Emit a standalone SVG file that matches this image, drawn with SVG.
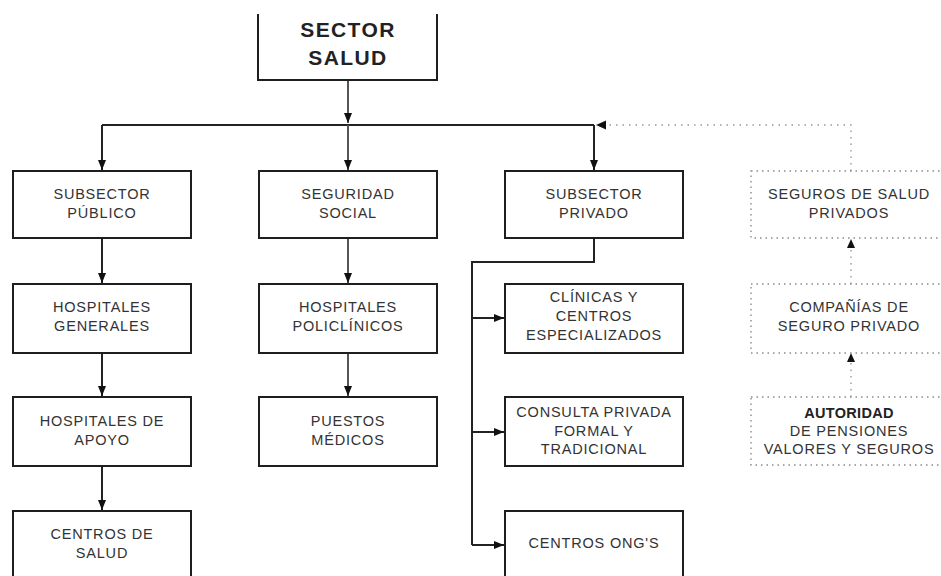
<svg xmlns="http://www.w3.org/2000/svg" width="941" height="576" viewBox="0 0 941 576">
<defs>
<style>
.bx{fill:#fff;stroke:#1e1e1e;stroke-width:2}
.dbx{fill:#fff;stroke:#8a8a8a;stroke-width:1.4;stroke-dasharray:1.5 4}
.t{font-family:"Liberation Sans",Arial,sans-serif;font-size:14.5px;fill:#333;text-anchor:middle;letter-spacing:0.8px}
.tb{font-family:"Liberation Sans",Arial,sans-serif;font-size:21px;font-weight:bold;fill:#222;text-anchor:middle;letter-spacing:1.4px}
.ta{font-family:"Liberation Sans",Arial,sans-serif;font-size:14.5px;font-weight:bold;fill:#222;text-anchor:middle;letter-spacing:0.3px}
.c{fill:none;stroke:#222;stroke-width:2}
.cg{fill:none;stroke:#555;stroke-width:2}
.cd{fill:none;stroke:#999;stroke-width:1.4;stroke-dasharray:1.5 5}
</style>
<marker id="ah" markerUnits="userSpaceOnUse" markerWidth="10" markerHeight="10" viewBox="0 0 10 10" refX="10" refY="5" orient="auto">
<path d="M0,1 L10,5 L0,9 Z" fill="#111"/>
</marker>
</defs>

<g id="connectors">
<path class="cg" d="M348,80 V123" marker-end="url(#ah)"/>
<path class="c" d="M102,125 H594"/>
<path class="cg" d="M348,125 V170" marker-end="url(#ah)"/>
<path class="c" d="M102,125 V170" marker-end="url(#ah)"/>
<path class="c" d="M594,125 V170" marker-end="url(#ah)"/>
<path class="c" d="M102,238 V283" marker-end="url(#ah)"/>
<path class="c" d="M102,353 V396" marker-end="url(#ah)"/>
<path class="c" d="M102,466 V510" marker-end="url(#ah)"/>
<path class="cg" d="M348,238 V283" marker-end="url(#ah)"/>
<path class="cg" d="M348,353 V396" marker-end="url(#ah)"/>
<path class="c" d="M594,238 V262 H472 V545"/>
<path class="c" d="M472,318 H504" marker-end="url(#ah)"/>
<path class="c" d="M472,432 H504" marker-end="url(#ah)"/>
<path class="c" d="M472,545 H504" marker-end="url(#ah)"/>
<path class="cd" d="M851,171 V125 H606"/>
<path d="M596,125 L606,120.5 L606,129.5 Z" fill="#111"/>
<path class="cd" d="M851,284 V248"/>
<path d="M851,239 L855,248 L847,248 Z" fill="#111"/>
<path class="cd" d="M851,397 V362"/>
<path d="M851,353 L855,362 L847,362 Z" fill="#111"/>
</g>

<g id="sector-salud">
<path d="M258,14 V80 H437 V14" fill="#fff" stroke="#1e1e1e" stroke-width="2"/>
<text class="tb" x="348" y="37">SECTOR</text>
<text class="tb" x="348" y="65">SALUD</text>
</g>

<g id="subsector-publico">
<rect class="bx" x="13" y="171" width="178" height="67"/>
<text class="t" x="102" y="199">SUBSECTOR</text>
<text class="t" x="102" y="218">PÚBLICO</text>
</g>
<g id="seguridad-social">
<rect class="bx" x="259" y="171" width="178" height="67"/>
<text class="t" x="348" y="199">SEGURIDAD</text>
<text class="t" x="348" y="218">SOCIAL</text>
</g>
<g id="subsector-privado">
<rect class="bx" x="505" y="171" width="178" height="67"/>
<text class="t" x="594" y="199">SUBSECTOR</text>
<text class="t" x="594" y="218">PRIVADO</text>
</g>
<g id="seguros-salud-privados">
<rect class="dbx" x="751" y="171" width="200" height="67"/>
<text class="t" x="849" y="199">SEGUROS DE SALUD</text>
<text class="t" x="849" y="218">PRIVADOS</text>
</g>

<g id="hospitales-generales">
<rect class="bx" x="13" y="284" width="178" height="69"/>
<text class="t" x="102" y="312">HOSPITALES</text>
<text class="t" x="102" y="331">GENERALES</text>
</g>
<g id="hospitales-policlinicos">
<rect class="bx" x="259" y="284" width="178" height="69"/>
<text class="t" x="348" y="312">HOSPITALES</text>
<text class="t" x="348" y="331">POLICLÍNICOS</text>
</g>
<g id="clinicas">
<rect class="bx" x="505" y="284" width="178" height="69"/>
<text class="t" x="594" y="302">CLÍNICAS Y</text>
<text class="t" x="594" y="321">CENTROS</text>
<text class="t" x="594" y="340">ESPECIALIZADOS</text>
</g>
<g id="companias">
<rect class="dbx" x="751" y="284" width="200" height="69"/>
<text class="t" x="849" y="312">COMPAÑÍAS DE</text>
<text class="t" x="849" y="331">SEGURO PRIVADO</text>
</g>

<g id="hospitales-apoyo">
<rect class="bx" x="13" y="397" width="178" height="69"/>
<text class="t" x="102" y="426">HOSPITALES DE</text>
<text class="t" x="102" y="445">APOYO</text>
</g>
<g id="puestos-medicos">
<rect class="bx" x="259" y="397" width="178" height="69"/>
<text class="t" x="348" y="426">PUESTOS</text>
<text class="t" x="348" y="445">MÉDICOS</text>
</g>
<g id="consulta-privada">
<rect class="bx" x="505" y="397" width="178" height="69"/>
<text class="t" x="594" y="417">CONSULTA PRIVADA</text>
<text class="t" x="594" y="436">FORMAL Y</text>
<text class="t" x="594" y="454">TRADICIONAL</text>
</g>
<g id="autoridad">
<rect class="dbx" x="751" y="397" width="200" height="68"/>
<text class="ta" x="849" y="418">AUTORIDAD</text>
<text class="t" x="849" y="436">DE PENSIONES</text>
<text class="t" x="849" y="454">VALORES Y SEGUROS</text>
</g>

<g id="centros-salud">
<rect class="bx" x="13" y="511" width="178" height="80"/>
<text class="t" x="102" y="539">CENTROS DE</text>
<text class="t" x="102" y="558">SALUD</text>
</g>
<g id="centros-ongs">
<rect class="bx" x="505" y="511" width="178" height="80"/>
<text class="t" x="594" y="548">CENTROS ONG'S</text>
</g>
</svg>
